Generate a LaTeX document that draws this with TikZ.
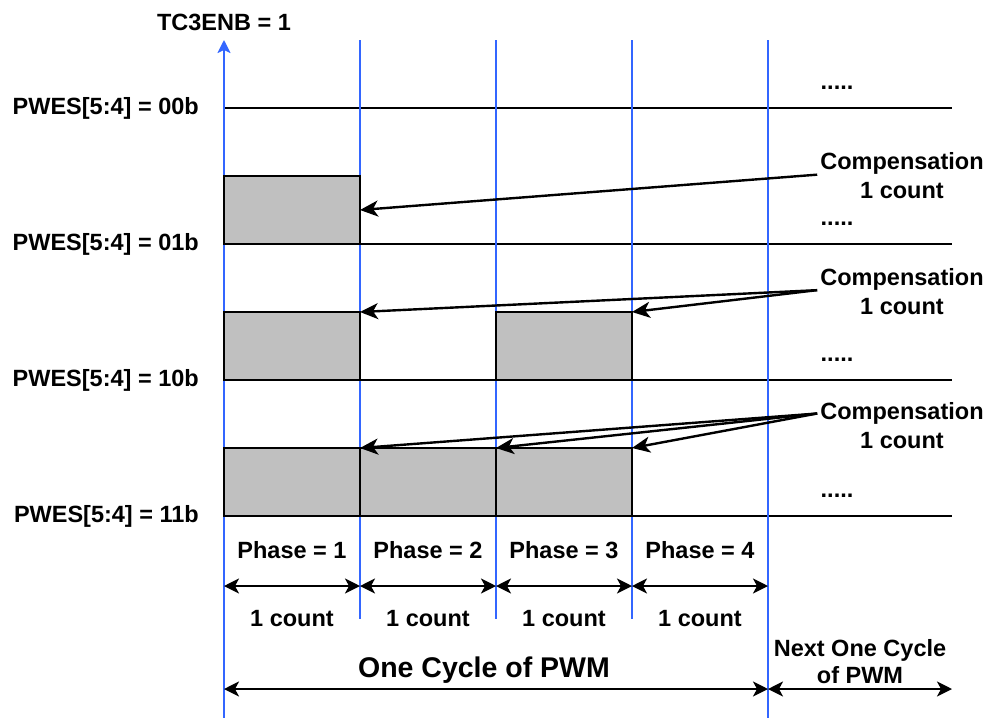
\documentclass[tikz,border=0pt]{standalone}
\usepackage{fontspec}
\setmainfont{Liberation Sans}
\usetikzlibrary{arrows.meta,positioning}
\definecolor{gridblue}{RGB}{51,102,255}
\definecolor{boxgray}{RGB}{192,192,192}

\begin{document}
\begin{tikzpicture}[x=1pt,y=-1pt,
  txt/.style={font=\fontsize{23.5}{27}\selectfont\bfseries, inner xsep=3pt, inner ysep=0pt},
  bigtxt/.style={font=\fontsize{28.5}{32}\selectfont\bfseries, inner sep=0pt},
  row/.style={line width=2pt},
  tick/.style={gridblue, line width=1.2pt},
  slot/.style={draw, line width=2pt, fill=boxgray, minimum width=136pt, minimum height=68pt, inner sep=0pt, outer sep=0pt, anchor=south west},
  span/.style={line width=2pt, {Stealth[length=15pt,width=15pt,inset=4pt]}-{Stealth[length=15pt,width=15pt,inset=4pt]}},
  pointer/.style={line width=2.4pt, -{Stealth[length=18pt,width=16pt,inset=5pt]}}]
\useasboundingbox (0,0) rectangle (994,718);

\coordinate (t0) at (224,40);  \coordinate (b0) at (224,718);
\coordinate (t1) at (360,40);  \coordinate (b1) at (360,619);
\coordinate (t2) at (496,40);  \coordinate (b2) at (496,619);
\coordinate (t3) at (632,40);  \coordinate (b3) at (632,619);
\coordinate (t4) at (768,40);  \coordinate (b4) at (768,718);

\coordinate (r0) at (224,108); \coordinate (e0) at (952,108);
\coordinate (r1) at (224,244); \coordinate (e1) at (952,244);
\coordinate (r2) at (224,380); \coordinate (e2) at (952,380);
\coordinate (r3) at (224,516); \coordinate (e3) at (952,516);

\draw[row] (r0) -- (e0);
\draw[row] (r1) -- (e1);
\draw[row] (r2) -- (e2);
\draw[row] (r3) -- (e3);

\draw[gridblue, line width=2.2pt, -{Stealth[length=13pt,width=13pt,inset=3pt]}] (b0) -- (t0);
\draw[tick] (t1) -- (b1);
\draw[tick] (t2) -- (b2);
\draw[tick] (t3) -- (b3);
\draw[tick] (t4) -- (b4);

\node[slot] (s1a) at (r1) {};
\node[slot] (s2a) at (r2) {};
\node[slot] (s2c) at (b2 |- r2) {};
\node[slot] (s3a) at (r3) {};
\node[slot, right=0pt of s3a] (s3b) {};
\node[slot, right=0pt of s3b] (s3c) {};

\node[txt] (tc) at (224,22) {TC3ENB = 1};
\node[txt, anchor=east] (l0) at (202,108) {PWES[5:4] = 00b};
\node[txt, anchor=east] (l1) at (202,244) {PWES[5:4] = 01b};
\node[txt, anchor=east] (l2) at (202,380) {PWES[5:4] = 10b};
\node[txt, anchor=east] (l3) at (202,516) {PWES[5:4] = 11b};

\node[txt, anchor=base] (d0) at (837,89) {.....};
\node[txt, anchor=base] (d1) at (837,225) {.....};
\node[txt, anchor=base] (d2) at (837,361) {.....};
\node[txt, anchor=base] (d3) at (837,497) {.....};

\node[txt] (c1) at (902,163.5) {Compensation};
\node[txt, below=7.5pt of c1] (n1) {1 count};
\node[txt] (c2) at (902,279) {Compensation};
\node[txt, below=7.5pt of c2] (n2) {1 count};
\node[txt] (c3) at (902,413.5) {Compensation};
\node[txt, below=7.5pt of c3] (n3) {1 count};

\draw[pointer] (c1.south west) -- (s1a.east);
\draw[pointer] (c2.south west) -- (s2a.north east);
\draw[pointer] (c2.south west) -- (s2c.north east);
\draw[pointer] (c3.west) -- (s3a.north east);
\draw[pointer] (c3.west) -- (s3b.north east);
\draw[pointer] (c3.west) -- (s3c.north east);

\node[txt] (p1) at (292,550) {Phase = 1};
\node[txt] (p2) at (428,550) {Phase = 2};
\node[txt] (p3) at (564,550) {Phase = 3};
\node[txt] (p4) at (700,550) {Phase = 4};

\coordinate (a0) at (224,586);
\coordinate (a1) at (360,586);
\coordinate (a2) at (496,586);
\coordinate (a3) at (632,586);
\coordinate (a4) at (768,586);
\draw[span] (a0) -- (a1);
\draw[span] (a1) -- (a2);
\draw[span] (a2) -- (a3);
\draw[span] (a3) -- (a4);

\node[txt] (k1) at (292,619) {1 count};
\node[txt] (k2) at (428,619) {1 count};
\node[txt] (k3) at (564,619) {1 count};
\node[txt] (k4) at (700,619) {1 count};

\node[bigtxt] (oc) at (484,670) {One Cycle of PWM};
\node[txt, align=center] (nc) at (860,662) {Next One Cycle\\of PWM};

\coordinate (w0) at (224,689);
\coordinate (w1) at (768,689);
\coordinate (w2) at (952,689);
\draw[span] (w0) -- (w1);
\draw[span] (w1) -- (w2);
\end{tikzpicture}
\end{document}
